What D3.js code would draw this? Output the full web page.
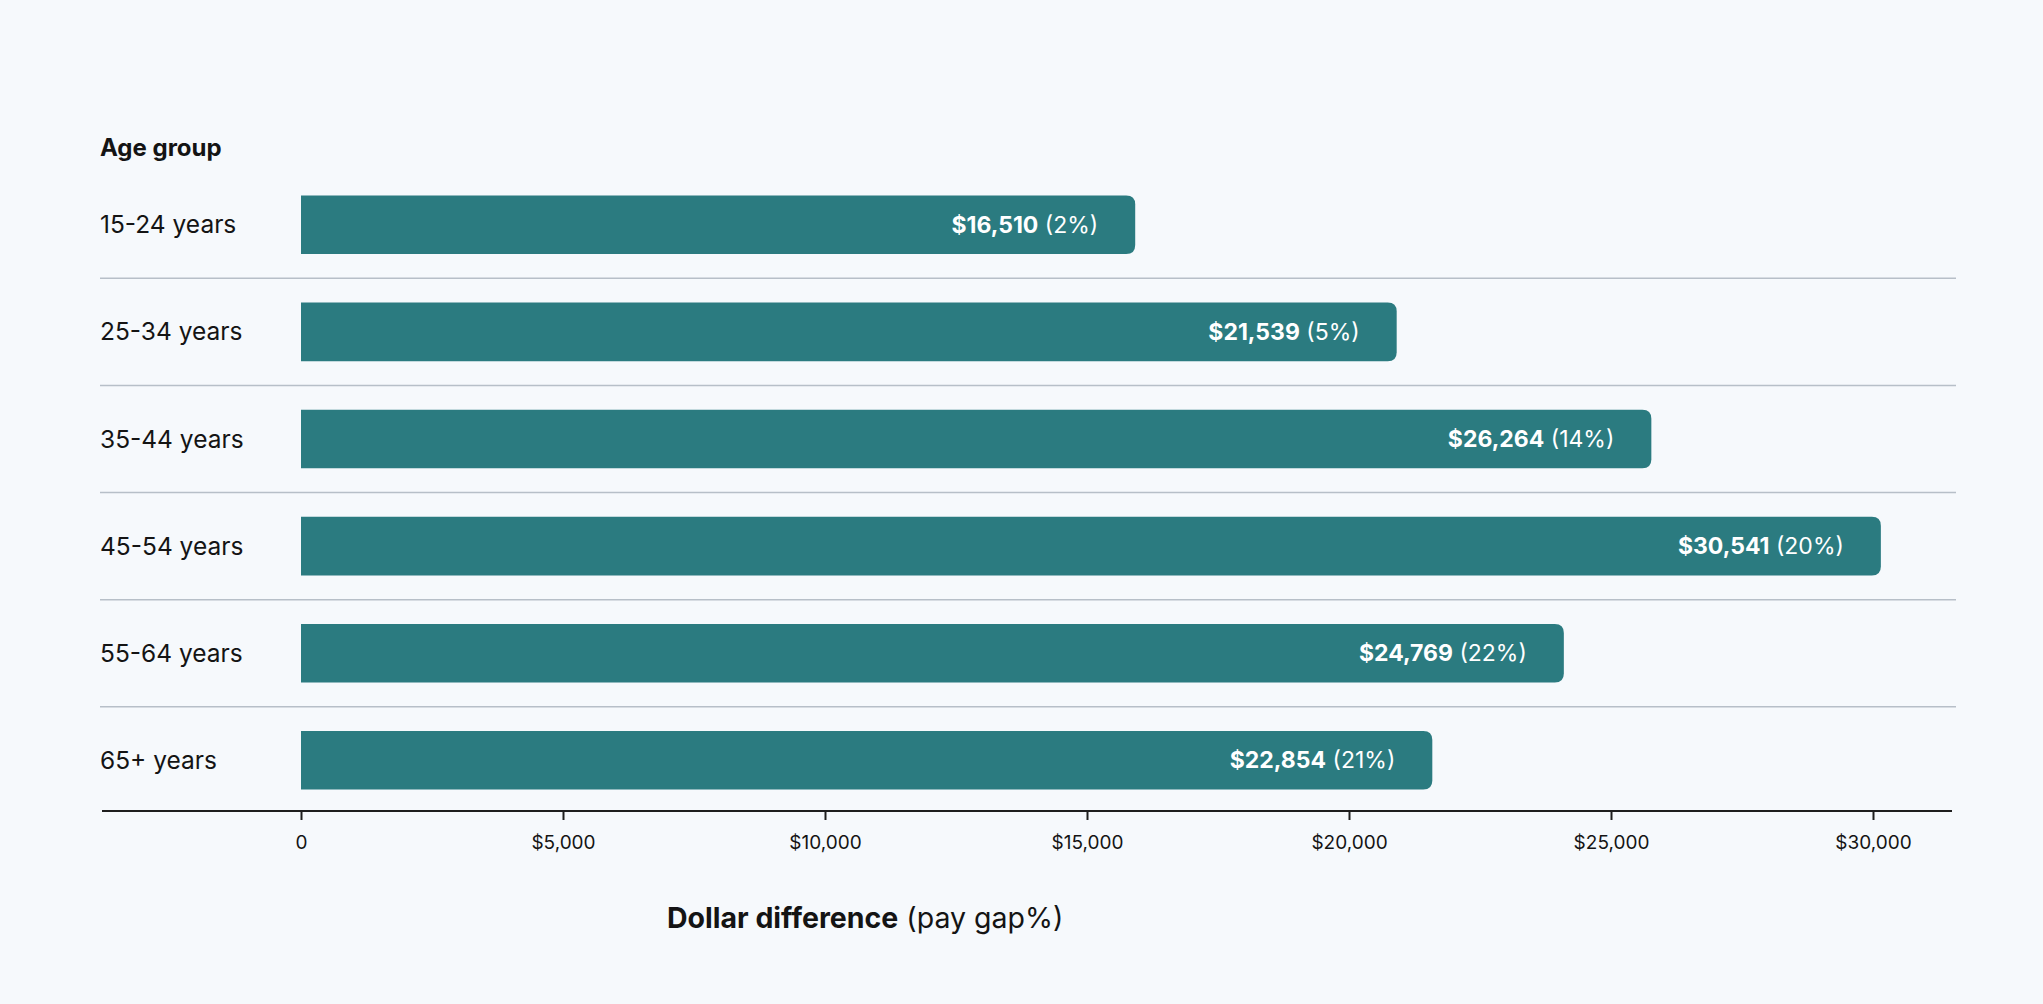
<!DOCTYPE html>
<html>
<head>
<meta charset="utf-8">
<script src="https://cdn.jsdelivr.net/npm/d3@7"></script>
<style>
  html, body { margin: 0; padding: 0; background: #f6f9fc; }
  svg { display: block; font-family: Inter, "Noto Sans", sans-serif; }
</style>
</head>
<body>
<div id="chart"></div>
<script>
// data
const ageGroups = ["15-24 years", "25-34 years", "35-44 years", "45-54 years", "55-64 years", "65+ years"];
// where each bar ends on the dollar axis
const barValues = [15920, 20910, 25770, 30150, 24100, 21590];
// printed labels
const dollarLabels = ["$16,510", "$21,539", "$26,264", "$30,541", "$24,769", "$22,854"];
const gapLabels = ["(2%)", "(5%)", "(14%)", "(20%)", "(22%)", "(21%)"];
const tickValues = [0, 5000, 10000, 15000, 20000, 25000, 30000];
const tickLabels = ["0", "$5,000", "$10,000", "$15,000", "$20,000", "$25,000", "$30,000"];

const data = ageGroups.map((a, i) => ({
  age: a, value: barValues[i], dollar: dollarLabels[i], gap: gapLabels[i]
}));

const width = 2043, height = 1004;
const teal = "#2b7b80";
const ink = "#141414";

const svg = d3.select("#chart")
  .append("svg")
  .attr("width", width)
  .attr("height", height);

const xScale = d3.scaleLinear().domain([0, 30000]).range([301, 1873]);
const yScale = d3.scaleBand()
  .domain(ageGroups)
  .range([171.25, 813.85])
  .paddingInner(0.453)
  .paddingOuter(0.2265);

const step = yScale.step();
const bw = yScale.bandwidth();
const gapHalf = (step - bw) / 2;

// separators between rows
svg.selectAll(".sep")
  .data(ageGroups.slice(1))
  .enter()
  .append("line")
  .attr("class", "sep")
  .attr("x1", 100)
  .attr("x2", 1956)
  .attr("y1", d => yScale(d) - gapHalf)
  .attr("y2", d => yScale(d) - gapHalf)
  .attr("stroke", "#b7bfc8")
  .attr("stroke-width", 1.5);

// bars with rounded right end
const r = 9;
function barPath(d) {
  const x0 = xScale(0), x1 = xScale(d.value);
  const y0 = yScale(d.age), y1 = y0 + bw;
  return `M${x0},${y0}H${x1 - r}Q${x1},${y0} ${x1},${y0 + r}V${y1 - r}Q${x1},${y1} ${x1 - r},${y1}H${x0}Z`;
}

svg.selectAll(".bar")
  .data(data)
  .enter()
  .append("path")
  .attr("class", "bar")
  .attr("d", barPath)
  .attr("fill", teal);

// value labels inside bars
const labels = svg.selectAll(".label")
  .data(data)
  .enter()
  .append("text")
  .attr("class", "label")
  .attr("x", d => xScale(d.value) - 37)
  .attr("y", d => yScale(d.age) + bw / 2)
  .attr("dy", "0.35em")
  .attr("text-anchor", "end")
  .attr("fill", "#ffffff")
  .style("font-size", "23px");

labels.append("tspan")
  .style("font-weight", 700)
  .text(d => d.dollar);
labels.append("tspan")
  .style("font-weight", 400)
  .text(d => " " + d.gap);

// category labels
svg.selectAll(".cat")
  .data(ageGroups)
  .enter()
  .append("text")
  .attr("class", "cat")
  .attr("x", 100)
  .attr("y", d => yScale(d) + bw / 2)
  .attr("dy", "0.35em")
  .attr("fill", ink)
  .style("font-size", "24.5px")
  .text(d => d);

svg.append("text")
  .attr("x", 100)
  .attr("y", 156)
  .attr("fill", ink)
  .style("font-size", "24px")
  .style("font-weight", 700)
  .text("Age group");

// x axis
const axisY = 811;
svg.append("line")
  .attr("x1", 102)
  .attr("x2", 1952)
  .attr("y1", axisY)
  .attr("y2", axisY)
  .attr("stroke", "#1e1e1e")
  .attr("stroke-width", 2);

const xAxis = svg.append("g")
  .attr("transform", `translate(0, ${axisY})`)
  .call(d3.axisBottom(xScale)
    .tickValues(tickValues)
    .tickFormat((d, i) => tickLabels[i])
    .tickSize(9)
    .tickPadding(16));

xAxis.select(".domain").remove();
xAxis.selectAll(".tick line").attr("stroke", "#1e1e1e").attr("stroke-width", 2);
xAxis.selectAll(".tick text")
  .attr("fill", ink)
  .style("font-size", "19px")
  .style("font-family", "Inter, 'Noto Sans', sans-serif");

const title = svg.append("text")
  .attr("x", 667)
  .attr("y", 928)
  .attr("fill", ink)
  .style("font-size", "28.5px");
title.append("tspan").style("font-weight", 700).text("Dollar difference");
title.append("tspan").style("font-weight", 400).text(" (pay gap%)");
</script>
</body>
</html>
